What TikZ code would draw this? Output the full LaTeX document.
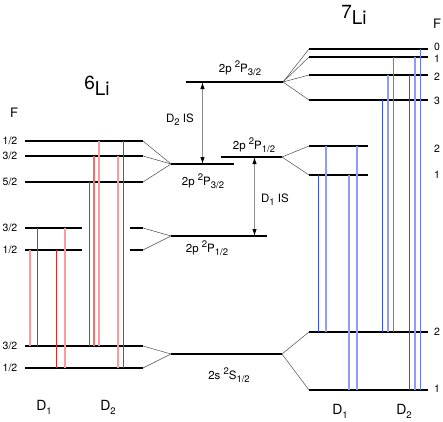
\documentclass[tikz,border=0pt]{standalone}
\usepackage{fontspec}
\setmainfont{TeX Gyre Heros}
\usetikzlibrary{arrows.meta}
\definecolor{dred}{RGB}{230,35,40}
\definecolor{mred}{RGB}{242,110,110}
\definecolor{lred}{RGB}{252,155,155}
\definecolor{dblue}{RGB}{55,75,250}
\definecolor{mblue}{RGB}{100,115,250}
\definecolor{lblue}{RGB}{145,155,252}
\newcommand\supidx[1]{\raisebox{0.42em}{\fontsize{9.5}{9.5}\selectfont #1}}
\newcommand\subidx[1]{\raisebox{-0.28em}{\fontsize{9.5}{9.5}\selectfont #1}}
\tikzset{
    every node/.style={font=\fontsize{11.5}{11.5}\selectfont, inner sep=0pt},
    level/.style={line width=2pt},
    split/.style={draw=black!70, line width=0.5pt},
    isarrow/.style={{Latex[length=7pt,width=4.5pt,color=black]}-{Latex[length=7pt,width=4.5pt,color=black]}, draw=black!45, line width=1pt},
    darkred/.style={draw=dred, line width=1pt},
    midred/.style={draw=mred, line width=1.5pt},
    lightred/.style={draw=lred, line width=2pt},
    darkblue/.style={draw=dblue, line width=1pt},
    midblue/.style={draw=mblue, line width=1.5pt},
    lightblue/.style={draw=lblue, line width=2pt},
    fval/.style={font=\fontsize{10.5}{10.5}\selectfont},
    fhead/.style={font=\fontsize{13}{13}\selectfont},
    dline/.style={font=\fontsize{14}{14}\selectfont},
    isotope/.style={font=\fontsize{19}{19}\selectfont},
}

\begin{document}
\begin{tikzpicture}[x=1pt, y=-1pt]
  \useasboundingbox (0,0) rectangle (443,421);
  % levels: name / left x / right x / y
  \foreach \n/\xa/\xb/\y in {sp1/25/143/141, sp3/25/143/156, sp5/25/143/182,
      sq3/25/82/228, sq1/25/82/250, tq3/130/143/228, tq1/130/143/250,
      sg3/25/143/346, sg1/25/143/368,
      sixP3/171/234/164, sixP1/171/267/236, gnd/171/282/354,
      sevP3/186/283/82, sevP1/221/282/157,
      vp0/309/428/49, vp1/309/428/57, vp2/309/428/75, vp3/309/428/100,
      vq2/309/368/146, vq1/309/368/175,
      vg2/309/428/332, vg1/309/428/390}
  {
    \coordinate (\n-l) at (\xa,\y);
    \coordinate (\n-r) at (\xb,\y);
    \draw[level] (\n-l) -- (\n-r);
  }

  % hyperfine splitting
  \foreach \a in {sp1, sp3, sp5} \draw[split] (\a-r) -- (sixP3-l);
  \foreach \a in {tq3, tq1} \draw[split] (\a-r) -- (sixP1-l);
  \foreach \a in {sg3, sg1} \draw[split] (\a-r) -- (gnd-l);
  \foreach \a in {vp0, vp1, vp2, vp3} \draw[split] (sevP3-r) -- (\a-l);
  \foreach \a in {vq2, vq1} \draw[split] (sevP1-r) -- (\a-l);
  \foreach \a in {vg2, vg1} \draw[split] (gnd-r) -- (\a-l);

  % 6Li transitions
  \foreach \dx/\upper/\lower/\kind in {5/sq1/sg3/lightred, 12.5/sq3/sg3/darkred,
      31.5/sq1/sg1/darkred, 40/sq3/sg1/lightred,
      64.5/sp5/sg3/darkred, 69/sp3/sg3/midred, 74/sp1/sg3/lightred,
      93/sp3/sg1/lightred, 98.5/sp1/sg1/darkred}
    \draw[\kind] ([xshift=\dx pt]\upper-l) -- ([xshift=\dx pt]\lower-l);

  % 7Li transitions
  \foreach \dx/\upper/\lower/\kind in {9.5/vq1/vg2/darkblue, 17/vq2/vg2/lightblue,
      40/vq1/vg1/lightblue, 48/vq2/vg1/lightblue,
      73.5/vp3/vg2/darkblue, 79/vp2/vg2/lightblue, 84.5/vp1/vg2/midblue,
      100.5/vp2/vg1/darkblue, 106/vp1/vg1/lightblue, 111.5/vp0/vg1/midblue}
    \draw[\kind] ([xshift=\dx pt]\upper-l) -- ([xshift=\dx pt]\lower-l);

  % isotope shifts
  \coordinate (isTwo) at (202.5,0);
  \coordinate (isOne) at (254.5,0);
  \draw[isarrow] (isTwo |- sevP3-l) -- (isTwo |- sixP3-l);
  \draw[isarrow] (isOne |- sevP1-l) -- (isOne |- sixP1-l);
  \node (isTwoLab) at (180,120) {D\subidx{2} IS};
  \node (isOneLab) at (275,200) {D\subidx{1} IS};

  % state labels
  \node (labSevP3) at (240,68) {2p \supidx{2}P\subidx{3/2}};
  \node (labSevP1) at (254,145) {2p \supidx{2}P\subidx{1/2}};
  \node (labSixP3) at (203,181) {2p \supidx{2}P\subidx{3/2}};
  \node (labSixP1) at (207,248) {2p \supidx{2}P\subidx{1/2}};
  \node (labGnd) at (229,375) {2s \supidx{2}S\subidx{1/2}};

  % isotopes
  \node[isotope] (sixLi) at (97,86) {\raisebox{6pt}{6}Li};
  \node[isotope] (sevLi) at (354,15) {\raisebox{6pt}{7}Li};

  % F quantum numbers
  \node[fhead] (fSix) at (14,113) {F};
  \node[fhead] (fSev) at (437,24) {F};
  \foreach \y/\f [count=\i] in {141/1\slash 2, 156/3\slash 2, 182/5\slash 2, 228/3\slash 2,
      250/1\slash 2, 346/3\slash 2, 368/1\slash 2}
    \node[fval] (fs\i) at (10,\y) {\f};
  \foreach \y/\f [count=\i] in {47/0, 59/1, 77/2, 101/3, 149/2, 175/1, 332/2, 389/1}
    \node[fval] (fv\i) at (437,\y) {\f};

  % lines
  \node[dline] (dOneSix) at (44,407) {D\subidx{1}};
  \node[dline] (dTwoSix) at (108,407) {D\subidx{2}};
  \node[dline] (dOneSev) at (340,411) {D\subidx{1}};
  \node[dline] (dTwoSev) at (404,411) {D\subidx{2}};
\end{tikzpicture}
\end{document}
